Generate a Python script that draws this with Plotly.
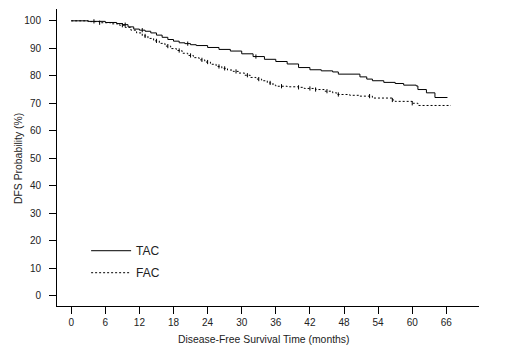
import numpy as np
import plotly.graph_objects as go

# Kaplan-Meier style step data (months, DFS %)
tac_months = [0, 3, 6, 8, 9, 10, 11, 12, 13, 14, 15, 16, 17, 18, 19, 20, 21, 22, 24, 26, 28, 30,
              32, 34, 36, 38, 40, 42, 44, 46, 47, 50.8, 52, 53, 55, 57, 58.5, 60.7, 61, 62.5, 64, 66.2]
tac_dfs = [100, 99.8, 99.4, 99.0, 98.6, 97.8, 97.0, 96.6, 96.2, 95.6, 94.8, 94.0, 93.2, 92.6, 92.0, 91.7,
           91.3, 91.0, 90.3, 89.6, 89.0, 88.0, 87.0, 86.0, 85.2, 84.3, 83.0, 82.2, 81.8, 81.4, 80.6, 79.6,
           78.8, 78.2, 77.6, 77.2, 76.6, 76.3, 75.0, 73.8, 72.1, 72.1]

fac_months = [0, 3, 5, 7, 8.5, 9.5, 10.5, 11.5, 12.5, 13.5, 14.5, 15.5, 16.5, 17.5, 18.5, 19.5, 20.5,
              21.5, 22.5, 23.5, 24.5, 25.5, 26.5, 27.5, 28.5, 29.5, 30.5, 31.5, 32.5, 33.5, 34.5, 35.5,
              36, 38, 40, 41, 43, 44.5, 46, 46.7, 49, 50.8, 53, 56.5, 57, 60, 61, 66.8]
fac_dfs = [100, 99.7, 99.3, 98.9, 98.4, 97.6, 96.6, 95.6, 94.5, 93.6, 92.7, 91.8, 90.8, 89.9, 89.2, 88.2,
           87.4, 86.6, 85.8, 85.0, 84.2, 83.4, 82.7, 82.1, 81.6, 81.0, 80.2, 79.4, 78.8, 78.2, 77.4, 76.6,
           76.2, 76.0, 75.8, 75.4, 75.0, 74.4, 73.8, 73.2, 72.9, 72.6, 71.9, 71.2, 70.7, 70.0, 69.2, 69.2]

# censoring times
tac_censor = [4, 9.5, 12.5, 20.5, 32.5]
fac_censor = [5, 9, 13, 15, 17, 19, 21, 23, 24, 26, 27, 29, 31, 33, 35, 37, 40, 42, 43, 45, 47,
              52.5, 56.5, 60]

x_ticks = [0, 6, 12, 18, 24, 30, 36, 42, 48, 54, 60, 66]
y_ticks = [0, 10, 20, 30, 40, 50, 60, 70, 80, 90, 100]

x_title = "Disease-Free Survival Time (months)"
y_title = "DFS Probability (%)"


def step_value(times, vals, t):
    idx = np.searchsorted(np.array(times), t, side="right") - 1
    return np.array(vals)[idx]


fig = go.Figure()
fig.add_trace(go.Scatter(x=tac_months, y=tac_dfs, mode="lines", name="TAC", legendgroup="tac",
                         line=dict(color="black", width=1, shape="hv")))
fig.add_trace(go.Scatter(x=fac_months, y=fac_dfs, mode="lines", name="FAC", legendgroup="fac",
                         line=dict(color="black", width=1, shape="hv", dash="2px,2px")))
fig.add_trace(go.Scatter(x=tac_censor, y=step_value(tac_months, tac_dfs, tac_censor), mode="markers",
                         showlegend=False, hoverinfo="skip",
                         marker=dict(symbol="line-ns", size=3, line=dict(color="black", width=1))))
fig.add_trace(go.Scatter(x=fac_censor, y=step_value(fac_months, fac_dfs, fac_censor), mode="markers",
                         showlegend=False, hoverinfo="skip",
                         marker=dict(symbol="line-ns", size=3, line=dict(color="black", width=1))))

axis_font = dict(family="Arial, Liberation Sans, sans-serif", size=10, color="#222")
title_font = dict(family="Arial, Liberation Sans, sans-serif", size=10.4, color="#222")
fig.update_layout(
    width=509, height=355,
    margin=dict(l=49, r=38, t=1, b=57, autoexpand=False),
    paper_bgcolor="white", plot_bgcolor="white",
    font=axis_font,
    showlegend=True,
    legend=dict(x=0.069, y=0.235, xanchor="left", yanchor="top", bgcolor="rgba(0,0,0,0)",
                font=dict(family="Arial, Liberation Sans, sans-serif", size=12, color="#222"),
                itemwidth=40, tracegroupgap=3),
    xaxis=dict(range=[-2.5, 71.75], tickvals=x_ticks, ticktext=[str(v) for v in x_ticks],
               showline=True, linecolor="black", linewidth=1, ticks="outside", ticklen=7,
               tickcolor="black", showgrid=False, zeroline=False, automargin=False),
    yaxis=dict(range=[-3.75, 104.3], tickvals=y_ticks, ticktext=[str(v) for v in y_ticks],
               showline=True, linecolor="black", linewidth=1, ticks="outside", ticklen=7,
               tickcolor="black", showgrid=False, zeroline=False, ticklabelstandoff=6,
               automargin=False),
    annotations=[
        dict(text=x_title, xref="paper", yref="paper", x=0.5, y=0, xanchor="center",
             yanchor="middle", xshift=-4, yshift=-33, showarrow=False, font=title_font),
        dict(text=y_title, xref="paper", yref="paper", x=0, y=0.5, xanchor="center",
             yanchor="middle", xshift=-39, yshift=-1.5, textangle=-90, showarrow=False,
             font=title_font),
    ],
)

fig.write_html("out.html")
